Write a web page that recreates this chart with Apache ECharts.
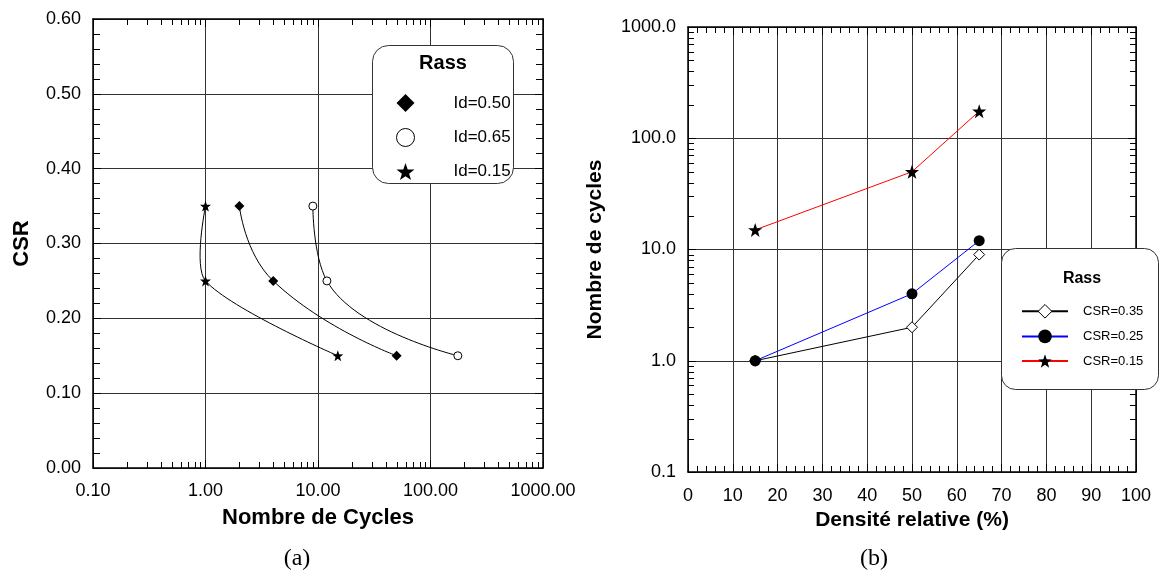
<!DOCTYPE html>
<html><head><meta charset="utf-8">
<script src="https://cdn.jsdelivr.net/npm/echarts@6/dist/echarts.min.js"></script>
<style>html,body{margin:0;padding:0;background:#fff}#c{width:1160px;height:572px}</style>
</head><body><div id="c"></div>
<script>
// ---- Data (a) ----
const csrLevels = [0.35, 0.25, 0.15];
const idLabels = ['Id=0.50', 'Id=0.65', 'Id=0.15'];
const cyclesId050 = [2, 4, 50];
const cyclesId065 = [9, 12, 175];
const cyclesId015 = [1, 1, 15];
// ---- Data (b) ----
const densite = [15, 50, 65];
const csrLabels = ['CSR=0.35', 'CSR=0.25', 'CSR=0.15'];
const cyclesCsr035 = [1, 2, 9];
const cyclesCsr025 = [1, 4, 12];
const cyclesCsr015 = [15, 50, 175];
// ---- Axis decoration ----
const logDecades = [0.1, 1, 10, 100];
const logMinorMult = [2, 3, 4, 5, 6, 7, 8, 9];
const titleA = 'Nombre de Cycles', titleAy = 'CSR';
const titleBx = 'Densité relative (%)', titleBy = 'Nombre de cycles';
const legendTitle = 'Rass';
const captions = ['(a)', '(b)'];

const logMinorTicks = [];
logDecades.forEach(d => logMinorMult.forEach(m => logMinorTicks.push(d * m)));

const FONT = 'Liberation Sans, Arial, sans-serif';
const STAR = 'path://M0,-10L2.35,-3.24L9.51,-3.09L3.8,1.24L5.88,8.09L0,4.1L-5.88,8.09L-3.8,1.24L-9.51,-3.09L-2.35,-3.24Z';
const zip = (xs, ys) => xs.map((x, i) => [x, ys[i]]);

const axLine = {show: true, onZero: false, lineStyle: {color: '#000', width: 1.5}};
const tick = {show: true, inside: true, length: 8, lineStyle: {color: '#000', width: 1}};
const split = {show: true, lineStyle: {color: '#333', width: 1}};
const lbl = (fmt, margin) => ({show: true, formatter: fmt, fontSize: 18, color: '#000', fontFamily: FONT, margin: margin});
const nameStyle = (fs) => ({fontSize: fs, fontWeight: 'bold', color: '#000', fontFamily: FONT});

function tickLine(x1, y1, x2, y2) {
  return {type: 'line', shape: {x1, y1, x2, y2}, style: {stroke: '#000', lineWidth: 1}};
}

// smooth curve (unclamped cardinal-like spline) through the points of one series, via the axes' scales
function smoothRenderer(xs, ys, s) {
  return (params, api) => {
    const i = params.dataIndex, n = xs.length;
    if (i >= n - 1) return {type: 'group', children: []};
    const P = xs.map((x, j) => api.coord([x, ys[j]]));
    const cpAfter = (j) => {
      if (j === 0 || j === n - 1) return P[j];
      const vx = P[j + 1][0] - P[j - 1][0], vy = P[j + 1][1] - P[j - 1][1];
      const lp = Math.hypot(P[j][0] - P[j - 1][0], P[j][1] - P[j - 1][1]);
      const ln = Math.hypot(P[j + 1][0] - P[j][0], P[j + 1][1] - P[j][1]);
      const r = ln / (lp + ln);
      return [P[j][0] + vx * s * r, P[j][1] + vy * s * r];
    };
    const cpBefore = (j) => {
      if (j === 0 || j === n - 1) return P[j];
      const vx = P[j + 1][0] - P[j - 1][0], vy = P[j + 1][1] - P[j - 1][1];
      const lp = Math.hypot(P[j][0] - P[j - 1][0], P[j][1] - P[j - 1][1]);
      const ln = Math.hypot(P[j + 1][0] - P[j][0], P[j + 1][1] - P[j][1]);
      const r = lp / (lp + ln);
      return [P[j][0] - vx * s * r, P[j][1] - vy * s * r];
    };
    const c1 = cpAfter(i), c2 = cpBefore(i + 1);
    return {type: 'bezierCurve', shape: {x1: P[i][0], y1: P[i][1], x2: P[i + 1][0], y2: P[i + 1][1],
      cpx1: c1[0], cpy1: c1[1], cpx2: c2[0], cpy2: c2[1]}, style: {stroke: '#000', fill: null, lineWidth: 1}};
  };
}

const option = {
  animation: false,
  backgroundColor: '#fff',
  grid: [
    {left: 93, top: 19, width: 450, height: 449},
    {left: 688, top: 27, width: 448, height: 445}
  ],
  xAxis: [
    {gridIndex: 0, type: 'log', logBase: 10, min: 0.1, max: 1000, position: 'bottom',
     axisLine: axLine, axisTick: tick, axisLabel: lbl(v => (+v).toFixed(2), 14), splitLine: split,
     name: titleA, nameLocation: 'middle', nameGap: 39, nameTextStyle: nameStyle(22)},
    {gridIndex: 0, type: 'log', logBase: 10, min: 0.1, max: 1000, position: 'top',
     axisLine: axLine, axisTick: tick, axisLabel: {show: false}, splitLine: {show: false}},
    {gridIndex: 1, type: 'value', min: 0, max: 100, interval: 10, position: 'bottom',
     axisLine: axLine, axisTick: tick, minorTick: {show: true, splitNumber: 5, length: 6, lineStyle: {color: '#000'}},
     axisLabel: lbl(v => String(v), 15), splitLine: split,
     name: titleBx, nameLocation: 'middle', nameGap: 37, nameTextStyle: nameStyle(21)},
    {gridIndex: 1, type: 'value', min: 0, max: 100, interval: 10, position: 'top',
     axisLine: axLine, axisTick: tick, minorTick: {show: true, splitNumber: 5, length: 6, lineStyle: {color: '#000'}},
     axisLabel: {show: false}, splitLine: {show: false}}
  ],
  yAxis: [
    {gridIndex: 0, type: 'value', min: 0, max: 0.6, interval: 0.1, position: 'left',
     axisLine: axLine, axisTick: tick, minorTick: {show: true, splitNumber: 5, length: 7, lineStyle: {color: '#000'}},
     axisLabel: lbl(v => (+v).toFixed(2), 12), splitLine: split,
     name: titleAy, nameLocation: 'middle', nameGap: 60, nameTextStyle: nameStyle(22)},
    {gridIndex: 0, type: 'value', min: 0, max: 0.6, interval: 0.1, position: 'right',
     axisLine: axLine, axisTick: tick, minorTick: {show: true, splitNumber: 5, length: 7, lineStyle: {color: '#000'}},
     axisLabel: {show: false}, splitLine: {show: false}},
    {gridIndex: 1, type: 'log', logBase: 10, min: 0.1, max: 1000, position: 'left',
     axisLine: axLine, axisTick: tick, axisLabel: lbl(v => (+v).toFixed(1), 12), splitLine: split,
     name: titleBy, nameLocation: 'middle', nameGap: 82, nameTextStyle: nameStyle(21)},
    {gridIndex: 1, type: 'log', logBase: 10, min: 0.1, max: 1000, position: 'right',
     axisLine: axLine, axisTick: tick, axisLabel: {show: false}, splitLine: {show: false}}
  ],
  legend: [
    {data: [{name: idLabels[0], icon: 'diamond'}, {name: idLabels[1], icon: 'circle'}, {name: idLabels[2], icon: STAR}],
     orient: 'vertical', left: 396, top: 94, padding: 0, itemWidth: 18, itemHeight: 18, itemGap: 16,
     selectedMode: false, z: 20, itemStyle: {borderWidth: 1},
     textStyle: {fontSize: 17, color: '#000', fontFamily: FONT, padding: [0, 0, 0, 34]}},
    {data: csrLabels, orient: 'vertical', left: 1021, top: 304, padding: 0, itemWidth: 46, itemHeight: 17, itemGap: 11,
     selectedMode: false, z: 20, itemStyle: {borderWidth: 1},
     textStyle: {fontSize: 13, color: '#000', fontFamily: FONT, padding: [0, 0, 0, 10]}}
  ],
  graphic: [
    {type: 'rect', z: 10, shape: {x: 372.5, y: 45.5, width: 141, height: 138, r: 16}, style: {fill: '#fff', stroke: '#333', lineWidth: 1}},
    {type: 'text', z: 21, x: 443, y: 63, style: {text: legendTitle, font: 'bold 20px ' + FONT, fill: '#000', align: 'center', verticalAlign: 'middle'}},
    {type: 'rect', z: 10, shape: {x: 1001.5, y: 248.5, width: 157, height: 141, r: 14}, style: {fill: '#fff', stroke: '#333', lineWidth: 1}},
    {type: 'text', z: 21, x: 1082, y: 279, style: {text: legendTitle, font: 'bold 16px ' + FONT, fill: '#000', align: 'center', verticalAlign: 'middle'}},
    {type: 'text', z: 21, x: 297, y: 559, style: {text: captions[0], font: '24px Liberation Serif, Times New Roman, serif', fill: '#000', align: 'center', verticalAlign: 'middle'}},
    {type: 'text', z: 21, x: 874, y: 559, style: {text: captions[1], font: '24px Liberation Serif, Times New Roman, serif', fill: '#000', align: 'center', verticalAlign: 'middle'}}
  ],
  series: [
    // (a)
    {name: idLabels[0], type: 'line', xAxisIndex: 0, yAxisIndex: 0, smooth: true, data: zip(cyclesId050, csrLevels),
     symbol: 'diamond', symbolSize: 10, itemStyle: {color: '#000'}, lineStyle: {color: '#000', width: 1}, emphasis: {disabled: true}, z: 5},
    {name: idLabels[1], type: 'line', xAxisIndex: 0, yAxisIndex: 0, smooth: true, data: zip(cyclesId065, csrLevels),
     symbol: 'circle', symbolSize: 8, itemStyle: {color: '#fff', borderColor: '#000', borderWidth: 1}, lineStyle: {color: '#000', width: 1}, emphasis: {disabled: true}, z: 5},
    {name: idLabels[2], type: 'line', xAxisIndex: 0, yAxisIndex: 0, smooth: true, data: zip(cyclesId015, csrLevels),
     symbol: STAR, symbolSize: 11, itemStyle: {color: '#000'}, lineStyle: {color: '#000', width: 1, opacity: 0}, emphasis: {disabled: true}, z: 5},
    // spline for Id=0.15 (drawn through the axis scales, unclamped so it bows like the original)
    {type: 'custom', xAxisIndex: 0, yAxisIndex: 0, silent: true, z: 4,
     data: zip(cyclesId015, csrLevels), renderItem: smoothRenderer(cyclesId015, csrLevels, 0.28)},
    // (b)
    {name: csrLabels[0], type: 'line', xAxisIndex: 2, yAxisIndex: 2, data: zip(densite, cyclesCsr035),
     symbol: 'diamond', symbolSize: 11, itemStyle: {color: '#fff', borderColor: '#000', borderWidth: 1}, lineStyle: {color: '#000', width: 1}, emphasis: {disabled: true}, z: 5},
    {name: csrLabels[1], type: 'line', xAxisIndex: 2, yAxisIndex: 2, data: zip(densite, cyclesCsr025),
     symbol: 'circle', symbolSize: 11, itemStyle: {color: '#000'}, lineStyle: {color: '#0000ff', width: 1}, emphasis: {disabled: true}, z: 5},
    {name: csrLabels[2], type: 'line', xAxisIndex: 2, yAxisIndex: 2, data: zip(densite, cyclesCsr015),
     symbol: STAR, symbolSize: 14, itemStyle: {color: '#000'}, lineStyle: {color: '#ff0000', width: 1}, emphasis: {disabled: true}, z: 5},
    // minor log ticks (a) x axis, bottom & top
    {type: 'custom', xAxisIndex: 0, yAxisIndex: 0, silent: true, clip: false, z: 4,
     data: logMinorTicks.map(v => [v, 0]),
     renderItem: (params, api) => {
       const x = Math.round(api.coord([api.value(0), 0])[0]) + 0.5;
       const cs = params.coordSys; const b = cs.y + cs.height, t = cs.y;
       return {type: 'group', children: [tickLine(x, b, x, b - 6), tickLine(x, t, x, t + 6)]};
     }},
    // minor log ticks (b) y axis, left & right
    {type: 'custom', xAxisIndex: 2, yAxisIndex: 2, silent: true, clip: false, z: 4,
     data: logMinorTicks.map(v => [0, v]),
     renderItem: (params, api) => {
       const y = Math.round(api.coord([0, api.value(1)])[1]) + 0.5;
       const cs = params.coordSys; const l = cs.x, r = cs.x + cs.width;
       return {type: 'group', children: [tickLine(l, y, l + 6, y), tickLine(r, y, r - 6, y)]};
     }}
  ]
};
const chart = echarts.init(document.getElementById('c'));
chart.setOption(option);
</script></body></html>
